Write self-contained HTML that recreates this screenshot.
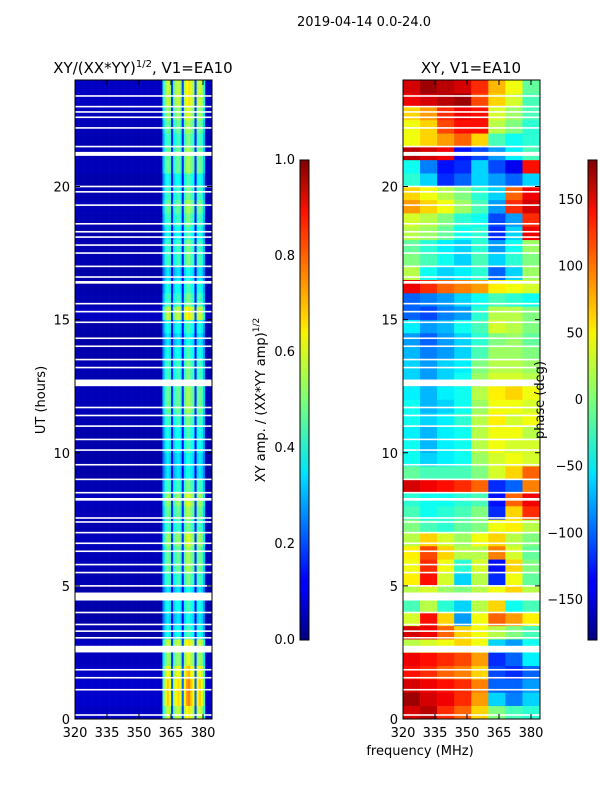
<!DOCTYPE html>
<html><head><meta charset="utf-8"><style>
body{margin:0;background:#fff;width:600px;height:800px;overflow:hidden;font-family:"Liberation Sans","DejaVu Sans",sans-serif}
svg text{font-family:"DejaVu Sans","Liberation Sans",sans-serif;fill:#000}
</style></head><body>
<svg id="fig" width="600" height="800" xmlns="http://www.w3.org/2000/svg">
<defs>
<linearGradient id="jet" x1="0" y1="1" x2="0" y2="0">
<stop offset="0" stop-color="#00007f"/><stop offset="0.11" stop-color="#0000ff"/><stop offset="0.125" stop-color="#0000ff"/>
<stop offset="0.34" stop-color="#00dcff"/><stop offset="0.35" stop-color="#00e5f8"/><stop offset="0.5" stop-color="#7cff79"/>
<stop offset="0.64" stop-color="#f8f500"/><stop offset="0.66" stop-color="#ffdf00"/><stop offset="0.89" stop-color="#ff1300"/><stop offset="1" stop-color="#7f0000"/>
</linearGradient>
</defs>
<text x="364" y="26" font-size="13" text-anchor="middle">2019-04-14 0.0-24.0</text>
<text x="143" y="73" font-size="15" text-anchor="middle">XY/(XX*YY)<tspan font-size="10" dy="-6">1/2</tspan><tspan dy="6">, V1=EA10</tspan></text>
<text x="471" y="73" font-size="15" text-anchor="middle">XY, V1=EA10</text>
<g id="amp"></g>
<g id="pha"></g>
<g id="axes"></g>
<text transform="translate(45,400) rotate(-90)" font-size="13" text-anchor="middle">UT (hours)</text>
<text transform="translate(265,400) rotate(-90)" font-size="13" text-anchor="middle">XY amp. / (XX*YY amp)<tspan font-size="9" dy="-6">1/2</tspan></text>
<text transform="translate(544,400) rotate(-90)" font-size="13" text-anchor="middle">phase (deg)</text>
<text x="420" y="755" font-size="13" text-anchor="middle">frequency (MHz)</text>
<rect x="300" y="160" width="9" height="480" fill="url(#jet)" stroke="#000"/>
<rect x="588" y="160" width="9" height="480" fill="url(#jet)" stroke="#000"/>
</svg>
<script>
const ampFreqStart=320;
const ampProfile=[0.05,0.05,0.05,0.05,0.05,0.05,0.05,0.05,0.05,0.05,0.05,0.05,0.05,0.05,0.05,0.05,0.05,0.05,0.05,0.05,0.05,0.05,0.05,0.05,0.05,0.05,0.05,0.05,0.05,0.05,0.05,0.05,0.05,0.05,0.05,0.05,0.05,0.05,0.05,0.05,0.05,
0.3,0.4,0.45,0.4,0.15,0.38,0.42,0.44,0.4,0.15,0.42,0.48,0.5,0.45,0.42,0.15,0.42,0.45,0.4,0.3,0.05,0.05,0.05,0.05];
const ampRowScale=[1.3,1.5,1.5,1.4,1.2,1.3,0.9,0.8,0.9,0.8,1.0,1.1,1.1,1.2,1.0,1.1,1.2,1.0,0.8,0.8,0.9,0.9,1.0,1.1,1.1,1.0,1.0,0.9,0.8,0.9,1.3,1.0,0.9,0.8,1.0,1.0,0.9,1.0,1.1,1.0,0.9,1.1,1.1,1.0,1.1,1.2,1.3,1.3];
const phaseFreqs=[320,328,336,344,352,360,368,376,384];
const phaseRows=[
[150,160,120,100,60,0,-20,-30],[170,150,140,120,80,-60,-90,-60],[150,140,130,120,90,-100,-100,-80],[130,120,100,90,60,-110,-120,-100],
[140,130,120,110,80,-120,-100,-50],[20,30,40,60,40,-60,-80,-40],[150,140,100,60,40,20,0,-20],[30,130,60,-80,40,100,80,50],
[-20,20,-30,-60,20,60,-40,-20],[20,30,10,0,20,40,60,20],[50,130,30,-60,20,-120,40,-10],[40,120,40,-30,30,-130,60,0],
[50,110,60,20,20,90,30,-10],[20,60,30,10,40,60,20,0],[0,-20,-30,-10,0,40,50,20],[-20,-40,-30,-20,0,-120,60,120],
[-30,-40,-40,-30,-20,-130,100,140],[150,140,130,120,100,-120,-100,90],[-10,-20,-20,-20,0,30,60,100],[-40,-60,-50,-40,10,30,40,30],
[-40,-70,-50,-40,20,40,30,30],[-50,-70,-50,-40,20,40,40,20],[-40,-60,-50,-30,20,50,30,40],[-40,-70,-60,-40,10,40,40,30],
[-50,-70,-50,-40,20,50,60,40],[-60,-80,-60,-40,10,30,30,20],[-60,-80,-60,-50,0,20,20,10],[-70,-90,-80,-60,-20,10,10,0],
[-80,-100,-80,-60,-30,0,10,-10],[-50,-80,-70,-40,-20,30,20,0],[-100,-110,-90,-80,-30,20,20,0],[-100,-90,-80,-60,-40,-20,-30,-40],
[140,120,100,90,80,50,40,30],[20,-40,-60,-50,-30,-100,-60,10],[0,-20,-40,-60,-20,-60,-30,0],[-10,-30,-50,-60,-30,-80,-40,10],
[20,10,-10,-40,-30,-120,-60,140],[30,20,0,-30,-40,-110,-80,120],[80,60,40,10,-20,-80,120,150],[60,40,20,0,-30,-60,100,140],
[-30,-60,-120,-100,-60,-80,-100,-60],[-40,-90,-130,-120,-60,-110,-140,130],[160,150,140,-130,-110,-80,-50,-20],[40,60,80,100,60,-20,-40,-30],
[40,60,110,130,130,20,0,-30],[60,80,120,140,130,30,10,-20],[140,150,160,170,110,60,30,-20],[150,170,160,150,120,70,40,-10]];
const gapHours=[0.15,1.1,1.55,1.85,3.05,3.3,3.55,4.0,5.0,5.5,5.8,6.3,6.6,7.0,7.4,7.55,8.5,9.0,9.55,10.1,10.5,11.0,11.4,11.7,13.2,13.5,14.0,14.3,14.9,15.3,15.6,16.6,17.0,17.5,17.8,18.1,18.3,18.6,19.3,19.8,20.0,21.5,22.2,22.6,22.8,23.0,23.4];
const wideGaps=[[2.5,2.75],[4.45,4.75],[8.2,8.3],[12.5,12.75],[16.35,16.45],[21.15,21.3]];
const ampTicks=[0,0.2,0.4,0.6,0.8,1.0];
const phaseTicks=[-150,-100,-50,0,50,100,150];
const xTicks=[320,335,350,365,380];
const yTicks=[0,5,10,15,20];

const NS="http://www.w3.org/2000/svg";
function jet(v){v=Math.max(0,Math.min(1,v));
 const f=(x)=>Math.max(0,Math.min(1,1.5-Math.abs(4*v-x)));
 return `rgb(${Math.round(255*f(3))},${Math.round(255*f(2))},${Math.round(255*f(1))})`;}
function P(x0,x1){return{x0,x1,fx:f=>x0+(f-320)*(128/60),ty:h=>719-h*(639/24)};}
const L=P(75,212),R=P(403,540);
function rect(g,x,y,w,h,fill,name){const r=document.createElementNS(NS,'rect');
 r.setAttribute('x',x);r.setAttribute('y',y);r.setAttribute('width',w);r.setAttribute('height',h);r.setAttribute('fill',fill);
 
 
 g.appendChild(r);return r;}
function txt(x,y,s,anchor,name){const t=document.createElementNS(NS,'text');
 t.setAttribute('x',x);t.setAttribute('y',y);t.setAttribute('font-size','13');t.setAttribute('text-anchor',anchor);t.textContent=s;
 
 
 document.getElementById('axes').appendChild(t);}
function line(x1,y1,x2,y2){const l=document.createElementNS(NS,'line');
 l.setAttribute('x1',x1);l.setAttribute('y1',y1);l.setAttribute('x2',x2);l.setAttribute('y2',y2);l.setAttribute('stroke','#000');
 
 
 document.getElementById('axes').appendChild(l);}
const ga=document.getElementById('amp'),gp=document.getElementById('pha');
const nr=ampRowScale.length;
for(let i=0;i<nr;i++){const h0=i*24/nr,h1=(i+1)*24/nr;const y=L.ty(h1),hh=L.ty(h0)-y;
 for(let j=0;j<ampProfile.length;j++){const f=ampFreqStart+j;const x=L.fx(f);const w=Math.min(L.fx(f+1),L.x1)-x;if(w<=0)continue;
  rect(ga,x,y,w+0.3,hh+0.3,jet(ampProfile[j]*ampRowScale[i]),'amp-cell');}}
const np=phaseRows.length;
for(let i=0;i<np;i++){const h0=i*24/np,h1=(i+1)*24/np;const y=R.ty(h1),hh=R.ty(h0)-y;
 for(let j=0;j<phaseFreqs.length-1;j++){const x=R.fx(phaseFreqs[j]);const w=Math.min(R.fx(phaseFreqs[j+1]),R.x1)-x;
  rect(gp,x,y,w+0.3,hh+0.3,jet((phaseRows[i][j]+180)/360),'phase-cell');}}
[[ga,L],[gp,R]].forEach(([g,A])=>{
 gapHours.forEach(h=>rect(g,A.x0,A.ty(h)-0.8,A.x1-A.x0,1.6,'#fff','flagged-gap'));
 wideGaps.forEach(([a,b])=>rect(g,A.x0,A.ty(b),A.x1-A.x0,A.ty(a)-A.ty(b),'#fff','flagged-gap'));
 const fr=document.createElementNS(NS,'rect');fr.setAttribute('x',A.x0);fr.setAttribute('y',80);fr.setAttribute('width',A.x1-A.x0);fr.setAttribute('height',639);
 fr.setAttribute('fill','none');fr.setAttribute('stroke','#000');
 
 
 document.getElementById('axes').appendChild(fr);
 xTicks.forEach(f=>{const x=A.fx(f);line(x,719,x,714);line(x,80,x,85);txt(x,737,String(f),'middle','x-tick-label');});
 yTicks.forEach(h=>{const y=A.ty(h);line(A.x0,y,A.x0+5,y);line(A.x1,y,A.x1-5,y);txt(A.x0-5,y+5,String(h),'end','y-tick-label');});
});
ampTicks.forEach(v=>{const y=640-v*480;line(300,y,304,y);line(309,y,305,y);txt(295,y+4,v.toFixed(1),'end','amp-colorbar-tick');});
phaseTicks.forEach(v=>{const y=400-v*(480/360);line(588,y,592,y);line(597,y,593,y);txt(583,y+4,v<0?'\u2212'+(-v):String(v),'end','phase-colorbar-tick');});
</script>
</body></html>
